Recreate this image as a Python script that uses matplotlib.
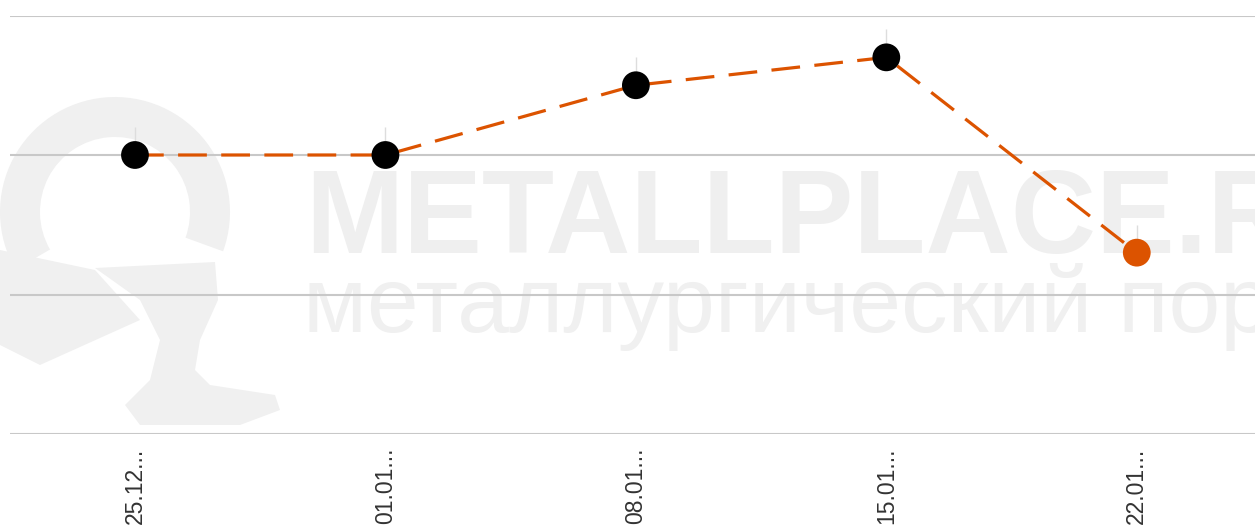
import matplotlib.pyplot as plt
from matplotlib.patches import Wedge, Polygon
import numpy as np

# data
dates = ['25.12...', '01.01...', '08.01...', '15.01...', '22.01...']
values = [200, 200, 250, 270, 130]
grid_vals = [0, 100, 200, 300]

orange = '#dc5300'
wm = '#f0f0f0'

fig = plt.figure(figsize=(12.55, 5.25), dpi=100)

# background layer for the watermark (pixel coords, y down)
bg = fig.add_axes([0, 0, 1, 1], zorder=0)
bg.set_xlim(0, 1255)
bg.set_ylim(525, 0)
bg.axis('off')
bg.add_patch(Wedge((115, 212), 115, 150, 380, width=40, color=wm, lw=0))
bg.add_patch(Polygon([(0, 250), (95, 270), (140, 320), (40, 365), (0, 345)],
                     closed=True, color=wm, lw=0))
bg.add_patch(Polygon([(95, 268), (215, 262), (218, 300), (200, 340), (195, 370),
                      (210, 385), (275, 395), (280, 410), (240, 425), (140, 425),
                      (125, 405), (150, 380), (160, 340), (140, 300)],
                     closed=True, color=wm, lw=0))
bg.text(305, 253, 'METALLPLACE.RU', fontsize=85, fontweight='bold', color='#efefef',
        family='Liberation Sans', ha='left', va='baseline')
bg.text(303, 332, 'металлургический портал', fontsize=67, color=wm,
        family='Liberation Sans', ha='left', va='baseline')

# main axes runs past the right edge (chart was cropped)
ax = fig.add_axes([9.75 / 1255, 1 - 434 / 525, (1262 - 9.75) / 1255, (434 - 15.5) / 525], zorder=1)
ax.set_facecolor('none')

x = np.arange(len(dates))

for v in grid_vals:
    ax.axhline(v, color='#c8c8c8', lw=1.5, zorder=1)

# small leader lines above each point
ax.vlines(x, np.array(values), np.array(values) + 20, color='#dddddd', lw=1, zorder=2)

ax.plot(x, values, color=orange, lw=2.3, dashes=(9, 4.5), zorder=3)
colors = ['black'] * (len(values) - 1) + [orange]
ax.scatter(x, values, s=20 ** 2, c=colors, zorder=4, edgecolors='none')

ax.set_xlim(-0.5, 4.5)
ax.set_ylim(0, 300)
ax.set_yticks([])
ax.set_xticks(x)
ax.set_xticklabels(dates, rotation=90, fontsize=16.5, color='#333333',
                   family='Liberation Sans', ha='center', va='top')
ax.tick_params(axis='x', length=0, pad=10)
for s in ax.spines.values():
    s.set_visible(False)

fig.savefig('out.png', dpi=100)
